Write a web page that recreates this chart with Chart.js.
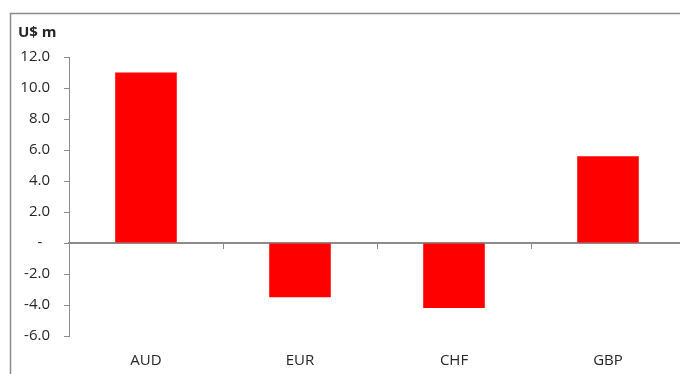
<!DOCTYPE html>
<html>
<head>
<meta charset="utf-8">
<script src="https://cdn.jsdelivr.net/npm/chart.js@4/dist/chart.umd.min.js"></script>
<style>
html, body { margin: 0; padding: 0; overflow: hidden; background: #fff; }
#wrap { position: absolute; left: 0; top: 0; width: 700px; height: 374px; }
</style>
</head>
<body>
<div id="wrap"><canvas id="chart-area"></canvas></div>
<script>
var categories = ['AUD', 'EUR', 'CHF', 'GBP'];
var values = [11.0, -3.5, -4.2, 5.6];
var yTicks = [-6, -4, -2, 0, 2, 4, 6, 8, 10, 12];
var unitLabel = 'U$ m';

var axisGrey = '#8c8c8c';
var textColor = '#262626';

// frame and unit title, like the excel chart box
var framePlugin = {
    id: 'frame',
    afterDraw: function(chart) {
        var ctx = chart.ctx;
        ctx.save();
        ctx.strokeStyle = axisGrey;
        ctx.lineWidth = 1.5;
        ctx.strokeRect(10.5, 13.5, 720, 420);
        ctx.fillStyle = textColor;
        ctx.font = 'bold 15px "Open Sans"';
        ctx.textBaseline = 'middle';
        ctx.fillText(unitLabel, 18, 33);
        ctx.restore();
    }
};

var config = {
    type: 'bar',
    data: {
        labels: categories,
        datasets: [{
            data: values,
            backgroundColor: '#ff0000',
            borderWidth: 0,
            barPercentage: 0.4,
            categoryPercentage: 1.0
        }]
    },
    options: {
        responsive: true,
        maintainAspectRatio: false,
        animation: false,
        layout: { padding: { left: 10, top: 57, right: 15, bottom: 8 } },
        plugins: { legend: { display: false }, tooltip: { enabled: false } },
        scales: {
            x: {
                type: 'category',
                position: 'bottom',
                grid: { display: false, drawTicks: false },
                border: { display: false },
                ticks: {
                    padding: 16,
                    color: textColor,
                    font: { family: 'Open Sans', size: 15 }
                },
                afterFit: function(scale) { scale.height = 30; }
            },
            x0: {
                type: 'category',
                position: { y: 0 },
                labels: categories,
                offset: true,
                grid: {
                    offset: true,
                    drawOnChartArea: false,
                    tickLength: 5,
                    color: axisGrey,
                    lineWidth: 1
                },
                border: { display: true, color: axisGrey, width: 2 },
                ticks: { display: false }
            },
            y: {
                min: -6,
                max: 12,
                afterBuildTicks: function(scale) {
                    scale.ticks = yTicks.map(function(v) { return { value: v }; });
                },
                grid: {
                    drawOnChartArea: false,
                    tickLength: 5,
                    color: axisGrey
                },
                border: { display: true, color: axisGrey, width: 1 },
                ticks: {
                    padding: 14,
                    color: textColor,
                    font: { family: 'Open Sans', size: 15 },
                    callback: function(v) {
                        return v === 0 ? '-  ' : v.toFixed(1);
                    }
                },
                afterFit: function(scale) { scale.width = 59; }
            }
        }
    },
    plugins: [framePlugin]
};

var ctx = document.getElementById('chart-area').getContext('2d');
window.myBar = new Chart(ctx, config);
</script>
</body>
</html>
